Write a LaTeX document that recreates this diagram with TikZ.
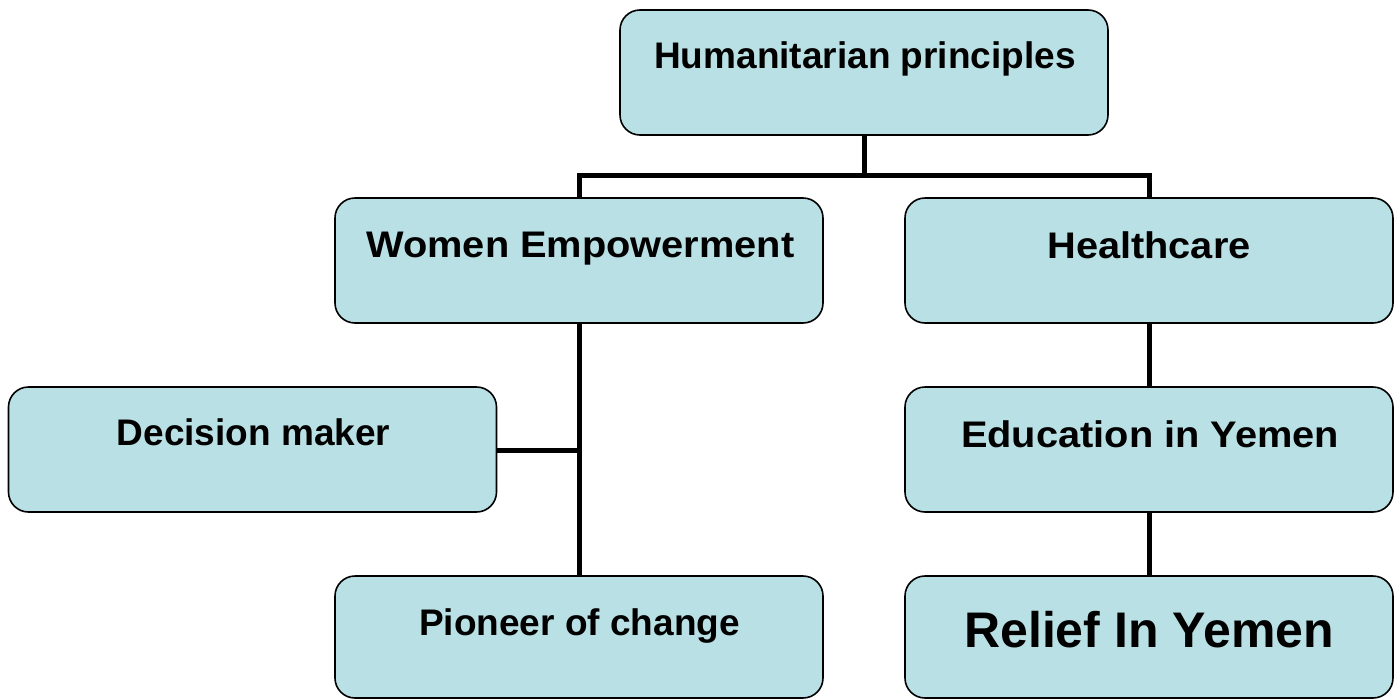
\documentclass[tikz,border=0pt]{standalone}
\usepackage{fontspec}
\setmainfont{Liberation Sans}
\definecolor{boxfill}{RGB}{185,224,228}
\newcommand{\wide}[1]{\scalebox{1.075}[1]{#1}}
\begin{document}
\begin{tikzpicture}[x=1pt,y=-1pt,
  box/.style={draw=black,line width=1.6pt,fill=boxfill,rounded corners=20pt,minimum width=488pt,minimum height=125pt,inner sep=0pt},
  txt/.style={font=\fontsize{37}{44}\selectfont\bfseries,inner sep=0pt,anchor=base},
  big/.style={font=\fontsize{50}{60}\selectfont\bfseries,inner sep=0pt,anchor=base},
  conn/.style={line width=5pt}]
\useasboundingbox (0,0) rectangle (1400,699);
\node[box] (hp) at (864,72.5) {};
\node[box] (we) at (579,260.5) {};
\node[box] (hc) at (1149,260.5) {};
\node[box] (dm) at (252.5,449.5) {};
\node[box] (ed) at (1149,449.5) {};
\node[box,minimum height=122pt] (pc) at (579,637) {};
\node[box,minimum height=122pt] (ry) at (1149,637) {};
\coordinate (j1) at (864,175);
\draw[conn] (hp.south) -- (j1);
\draw[conn] (j1) -| (we.north);
\draw[conn] (j1) -| (hc.north);
\draw[conn] (we.south) -- (pc.north);
\coordinate (j2) at (579,450);
\draw[conn] (dm.east |- j2) -- (j2);
\draw[conn] (hc.south) -- (ed.north);
\draw[conn] (ed.south) -- (ry.north);
% texts
\node[txt] (hpt) at (865,68) {Humanitarian principles};
\node[txt] (wet) at (580.5,257) {\wide{Women Empowerment}};
\node[txt] (hct) at (1149,258) {\wide{Healthcare}};
\node[txt] (dmt) at (253.5,445) {Decision maker};
\node[txt] (edt) at (1150,447) {\wide{Education in Yemen}};
\node[txt] (pct) at (579.5,635) {Pioneer of change};
\node[big] (ryt) at (1149,647) {Relief In Yemen};
\end{tikzpicture}
\end{document}
